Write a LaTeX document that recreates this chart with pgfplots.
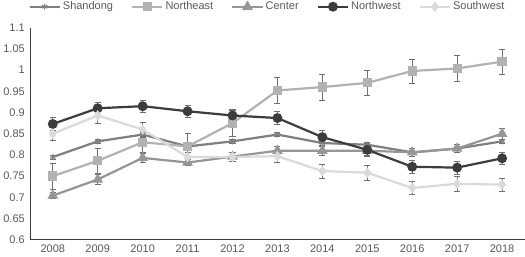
\documentclass[border=0pt]{standalone}
\usepackage{pgfplots}
\pgfplotsset{compat=1.18}
\usepackage{fontspec}
\setmainfont{Liberation Sans}
\definecolor{cSha}{HTML}{7F7F7F}
\definecolor{cNE}{HTML}{B2B2B2}
\definecolor{cCen}{HTML}{969696}
\definecolor{cNW}{HTML}{3C3C3C}
\definecolor{cSW}{HTML}{DADADA}
\definecolor{txt}{HTML}{595959}
\definecolor{errc}{HTML}{707070}
\begin{document}
\begin{tikzpicture}
\begin{axis}[
  scale only axis, width=492bp, height=211bp,
  xmin=-0.5, xmax=10.5, ymin=0.6, ymax=1.1,
  xtick={0,...,10},
  xticklabels={2008,2009,2010,2011,2012,2013,2014,2015,2016,2017,2018},
  ytick={0.6,0.65,...,1.11},
  yticklabels={0.6,0.65,0.7,0.75,0.8,0.85,0.9,0.95,1,1.05,1.1},
  axis x line*=bottom, axis y line*=left,
  axis line style={draw=cNW, line width=0.9pt, -},
  major tick length=0pt,
  tick label style={font=\fontsize{11}{13}\selectfont, text=txt},
  /pgf/number format/assume math mode=true,
  xticklabel style={yshift=-2bp},
  yticklabel style={xshift=-2bp},
  legend columns=5,
  legend style={draw=none, fill=none, at={(0.48,1)}, anchor=south, yshift=14bp,
    font=\fontsize{11}{13}\selectfont, text=txt,
    /tikz/every even column/.append style={column sep=16bp},
    inner sep=0pt},
  legend image code/.code={\draw[mark repeat=2,mark phase=2] plot coordinates {(0bp,0bp)(15bp,0bp)(30bp,0bp)};},
  every axis plot/.append style={line width=2.2pt},
  error bars/y dir=both, error bars/y explicit,
  error bars/error bar style={draw=errc, line width=0.6pt},
  error bars/error mark options={rotate=90, mark size=3bp, draw=errc, line width=0.6pt},
]
\addplot[color=cSha, mark=asterisk, mark size=3bp, mark options={line width=1pt}] coordinates {
(0,0.795)+-(0,0.005) (1,0.832)+-(0,0.005) (2,0.848)+-(0,0.005) (3,0.820)+-(0,0.005)
(4,0.832)+-(0,0.005) (5,0.848)+-(0,0.005) (6,0.828)+-(0,0.005) (7,0.824)+-(0,0.005)
(8,0.806)+-(0,0.005) (9,0.815)+-(0,0.005) (10,0.832)+-(0,0.005)};
\addlegendentry{Shandong}
\addplot[color=cNE, mark=square*, mark size=3.5bp] coordinates {
(0,0.750)+-(0,0.030) (1,0.786)+-(0,0.030) (2,0.830)+-(0,0.025) (3,0.820)+-(0,0.030)
(4,0.875)+-(0,0.030) (5,0.952)+-(0,0.030) (6,0.960)+-(0,0.030) (7,0.970)+-(0,0.030)
(8,0.998)+-(0,0.028) (9,1.004)+-(0,0.030) (10,1.020)+-(0,0.030)};
\addlegendentry{Northeast}
\addplot[color=cCen, mark=triangle*, mark size=4bp] coordinates {
(0,0.704)+-(0,0.007) (1,0.742)+-(0,0.012) (2,0.793)+-(0,0.010) (3,0.782)+-(0,0.007)
(4,0.796)+-(0,0.010) (5,0.810)+-(0,0.010) (6,0.810)+-(0,0.010) (7,0.810)+-(0,0.010)
(8,0.806)+-(0,0.010) (9,0.815)+-(0,0.010) (10,0.850)+-(0,0.012)};
\addlegendentry{Center}
\addplot[color=cNW, mark=*, mark size=3.8bp] coordinates {
(0,0.873)+-(0,0.015) (1,0.910)+-(0,0.015) (2,0.915)+-(0,0.015) (3,0.903)+-(0,0.015)
(4,0.893)+-(0,0.015) (5,0.887)+-(0,0.015) (6,0.842)+-(0,0.015) (7,0.812)+-(0,0.015)
(8,0.772)+-(0,0.015) (9,0.770)+-(0,0.015) (10,0.792)+-(0,0.015)};
\addlegendentry{Northwest}
\addplot[color=cSW, mark=diamond*, mark size=3.5bp] coordinates {
(0,0.850)+-(0,0.015) (1,0.893)+-(0,0.018) (2,0.860)+-(0,0.018) (3,0.795)+-(0,0.010)
(4,0.795)+-(0,0.010) (5,0.797)+-(0,0.015) (6,0.762)+-(0,0.017) (7,0.758)+-(0,0.017)
(8,0.722)+-(0,0.015) (9,0.732)+-(0,0.018) (10,0.730)+-(0,0.015)};
\addlegendentry{Southwest}
\end{axis}
\end{tikzpicture}
\end{document}
